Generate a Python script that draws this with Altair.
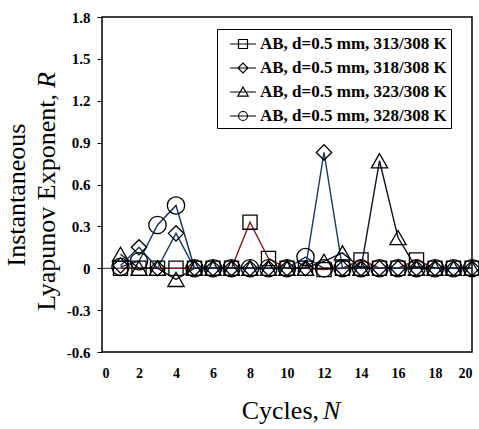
import altair as alt
import pandas as pd

# Cycle numbers and instantaneous Lyapunov exponent R for each run
cycles = list(range(1, 21))
series_names = [
    "AB, d=0.5 mm, 313/308 K",
    "AB, d=0.5 mm, 318/308 K",
    "AB, d=0.5 mm, 323/308 K",
    "AB, d=0.5 mm, 328/308 K",
]
r_313 = [0, 0, 0, 0, 0, 0, 0, 0.33, 0.07, 0, 0, -0.01, 0, 0.06, 0, 0, 0.06, 0, 0, 0]
r_318 = [0.02, 0.15, 0, 0.25, 0, 0, 0, 0, 0, 0, 0, 0.83, 0, 0, 0, 0, 0, 0, 0, 0]
r_323 = [0.1, 0, 0, -0.08, 0, 0, 0, 0, 0, 0, 0, 0.05, 0.11, 0, 0.77, 0.22, 0, 0, 0, 0]
r_328 = [0.01, 0.05, 0.31, 0.45, 0, 0, 0, 0, 0, 0, 0.08, 0, 0, 0, 0, 0, 0, 0, 0, 0]

x_ticks = [0, 2, 4, 6, 8, 10, 12, 14, 16, 18, 20]
y_ticks = [-0.6, -0.3, 0, 0.3, 0.6, 0.9, 1.2, 1.5, 1.8]

# Styling
line_colors = ["#7a1f1f", "#1a3a60", "#101028", "#1c2f5a"]
marker_shapes = ["square", "diamond", "triangle-up", "circle"]
marker_sizes = [200, 300, 300, 165]
legend_paths = [
    "M-1.3,0H1.3M-0.45,-0.45H0.45V0.45H-0.45Z",
    "M-1.3,0H1.3M-0.5,0L0,-0.5L0.5,0L0,0.5Z",
    "M-1.3,0H1.3M0,-0.5L0.52,0.42H-0.52Z",
    "M-1.3,0H1.3M0.45,0A0.45,0.45,0,1,1,-0.45,0A0.45,0.45,0,1,1,0.45,0Z",
]
SERIF = "Liberation Serif"

frames = []
for name, vals in zip(series_names, [r_313, r_318, r_323, r_328]):
    frames.append(pd.DataFrame({"cycle": cycles, "R": vals, "series": name}))
data = pd.concat(frames, ignore_index=True)

x_enc = alt.X(
    "cycle:Q",
    scale=alt.Scale(domain=[0, 20], nice=False),
    axis=alt.Axis(
        values=x_ticks,
        ticks=False,
        labelPadding=14,
        labelFont=SERIF,
        labelFontWeight="bold",
        labelFontSize=14,
        labelColor="black",
        title=None,
    ),
)
y_enc = alt.Y(
    "R:Q",
    scale=alt.Scale(domain=[-0.6, 1.8], nice=False),
    axis=alt.Axis(
        values=y_ticks,
        tickSize=5,
        labelPadding=7,
        labelFont=SERIF,
        labelFontWeight="bold",
        labelFontSize=15,
        labelColor="black",
        labelExpr="datum.value == 0 ? '0' : replace(format(datum.value, '.1f'), '\u2212', '-')",
        title=None,
    ),
)

zero_line = alt.Chart(pd.DataFrame({"R": [0.0]})).mark_rule(color="#222222", strokeWidth=1).encode(
    y=alt.Y("R:Q")
)

lines = alt.Chart(data).mark_line(strokeWidth=1.4).encode(
    x=x_enc,
    y=y_enc,
    color=alt.Color("series:N", scale=alt.Scale(domain=series_names, range=line_colors), legend=None),
)

points = alt.Chart(data).mark_point(
    filled=False, stroke="black", strokeWidth=1.3, opacity=1
).encode(
    x=x_enc,
    y=y_enc,
    shape=alt.Shape("series:N", scale=alt.Scale(domain=series_names, range=marker_shapes), legend=None),
    size=alt.Size("series:N", scale=alt.Scale(domain=series_names, range=marker_sizes), legend=None),
)

# Legend-only layer: draws nothing, supplies the line-through-marker key
key = alt.Chart(data).transform_filter("false").mark_point(
    filled=False, color="black", opacity=1, strokeWidth=1.2
).encode(
    x=x_enc,
    y=y_enc,
    shape=alt.Shape(
        "series:N",
        scale=alt.Scale(domain=series_names, range=legend_paths),
        legend=alt.Legend(
            title=None,
            orient="none",
            legendX=115,
            legendY=12,
            direction="vertical",
            strokeColor="black",
            fillColor="white",
            padding=4,
            symbolOffset=11,
            labelOffset=6,
            rowPadding=5,
            symbolSize=400,
            symbolStrokeColor="black",
            symbolFillColor="transparent",
            symbolStrokeWidth=1.2,
            labelFont=SERIF,
            labelFontWeight="bold",
            labelFontSize=17,
            labelColor="black",
            labelLimit=0,
            labelExpr="datum.label + '\u00a0\u00a0'",
        ),
    ),
)

one = pd.DataFrame({"k": [0]})


def label(text, x, y, **kw):
    return alt.Chart(one).mark_text(text=text, font=SERIF, fontSize=26, color="black", **kw).encode(
        x=alt.value(x), y=alt.value(y)
    )


titles = [
    label("Cycles,", 217, 402, align="right", baseline="alphabetic"),
    label("N", 221, 402, align="left", baseline="alphabetic", fontStyle="italic"),
    label("Instantaneous", -77, 178, align="center", baseline="alphabetic", angle=270),
    label("Lyapunov Exponent,", -47, 77, align="right", baseline="alphabetic", angle=270),
    label("R", -47, 71, align="left", baseline="alphabetic", angle=270, fontStyle="italic"),
]

chart = (
    alt.layer(zero_line, lines, points, key, *titles)
    .resolve_scale(shape="independent", size="independent")
    .properties(
        width=370,
        height=335,
        autosize=alt.AutoSizeParams(type="none"),
        padding={"left": 102, "top": 17, "right": 7, "bottom": 77},
        background="white",
    )
    .configure_view(stroke="black", strokeWidth=1.5)
    .configure_axis(domain=False, grid=False, tickColor="black")
)

chart.save("out.html", embed_options={"renderer": "svg", "actions": False})
